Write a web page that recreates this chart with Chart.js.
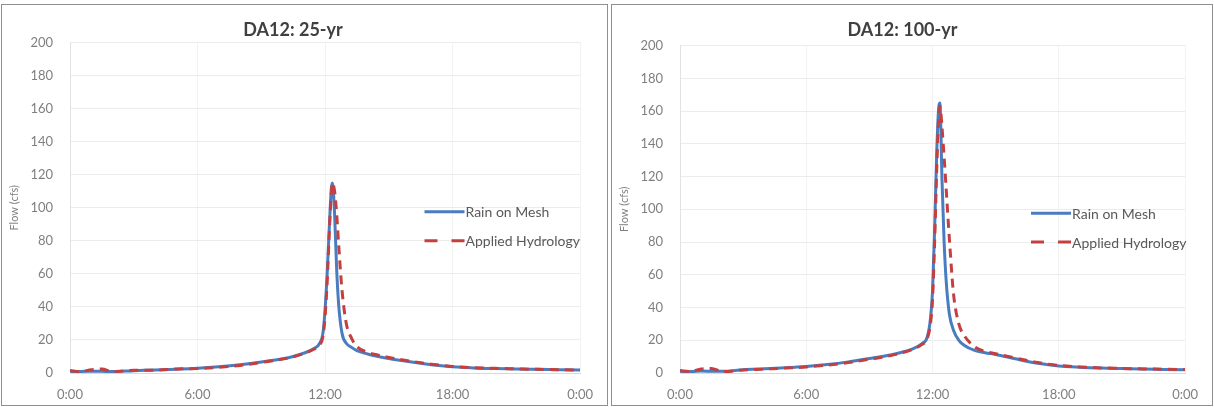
<!DOCTYPE html>
<html>
<head>
<meta charset="utf-8">
<script src="https://cdn.jsdelivr.net/npm/chart.js@4.4.1/dist/chart.umd.min.js"></script>
<style>
  html, body { margin: 0; padding: 0; background: #fff; }
  body { width: 1214px; height: 407px; position: relative; overflow: hidden; }
  .panel { position: absolute; top: 4px; border: 1px solid #8f8f8f; background: #fff; }
  #panel25 { left: 1px; }
  #panel100 { left: 611px; }
  canvas { display: block; }
</style>
</head>
<body>
<div class="panel" id="panel25"><canvas id="chart25" width="605" height="400"></canvas></div>
<div class="panel" id="panel100"><canvas id="chart100" width="600" height="400"></canvas></div>
<script>
// time in hours since 0:00, shared by all four series
const hours = [0, 0.5, 1, 1.5, 2, 3, 4, 5, 6, 7, 8, 9, 10, 10.5, 11, 11.5, 11.75, 11.9, 12, 12.1, 12.2, 12.3, 12.35, 12.45, 12.55, 12.65, 12.8, 13, 13.25, 13.5, 14, 14.5, 15, 16, 17, 18, 19, 20, 21, 22, 23, 24];

// 25-yr flows (cfs)
const rainOnMesh25 = [1.0, 0.9, 1.1, 1.0, 0.9, 1.4, 1.8, 2.3, 2.9, 3.8, 5.0, 6.6, 8.6, 10.0, 12.0, 15.0, 18, 24, 38, 60, 88, 112, 115, 96, 62, 40, 24, 18, 15.5, 13.5, 11.5, 10.0, 8.8, 6.8, 5.0, 3.8, 3.1, 2.7, 2.4, 2.2, 2.0, 1.8];
const appliedHydrology25 = [1.5, 0.8, 2.0, 2.4, 0.8, 1.6, 1.7, 2.4, 2.7, 3.4, 4.6, 6.4, 8.4, 9.8, 11.8, 14.5, 17, 22, 34, 55, 85, 110, 115, 110, 96, 76, 50, 30, 21, 16, 12.5, 10.8, 9.4, 7.2, 5.3, 4.0, 3.2, 2.8, 2.5, 2.2, 2.0, 1.8];

// 100-yr flows (cfs)
const rainOnMesh100 = [1.0, 0.9, 1.2, 1.1, 1.0, 2.0, 2.6, 3.2, 4.0, 5.2, 6.8, 8.8, 11.0, 12.5, 14.5, 18, 22, 33, 50, 88, 135, 163, 165, 118, 80, 56, 36, 26, 20, 17, 13.8, 12.4, 11.3, 8.5, 6.0, 4.3, 3.5, 3.0, 2.7, 2.4, 2.2, 2.0];
const appliedHydrology100 = [1.5, 0.9, 2.5, 2.8, 0.9, 1.8, 2.4, 3.0, 3.7, 4.8, 6.4, 8.4, 10.6, 12.2, 14.2, 17.5, 21, 30, 45, 80, 125, 158, 163, 150, 132, 112, 82, 48, 30, 23, 16, 13.2, 11.8, 9.0, 6.4, 4.6, 3.7, 3.1, 2.8, 2.5, 2.3, 2.1];

const seriesNames = ["Rain on Mesh", "Applied Hydrology"];
const xTicks = [0, 6, 12, 18, 24];

const FONT = "Lato, 'Open Sans', sans-serif";
const BLUE = "#4a7cc0";
const RED = "#c44040";

// legend drawn inside the plot, as in the Excel original
const insideLegend = {
    id: "insideLegend",
    afterDatasetsDraw(chart, args, opts) {
        const { ctx, chartArea } = chart;
        const x0 = chartArea.left + chartArea.width * opts.x;
        chart.data.datasets.forEach((ds, i) => {
            const y = chartArea.top + chartArea.height * opts.y[i];
            ctx.save();
            ctx.strokeStyle = ds.borderColor;
            ctx.lineWidth = ds.borderWidth;
            ctx.setLineDash(ds.borderDash ? opts.dash : []);
            ctx.beginPath();
            ctx.moveTo(x0, y);
            ctx.lineTo(x0 + opts.lineLength, y);
            ctx.stroke();
            ctx.setLineDash([]);
            ctx.fillStyle = opts.color;
            ctx.font = opts.font;
            ctx.textBaseline = "middle";
            ctx.fillText(ds.label, x0 + opts.lineLength + 1, y + 1);
            ctx.restore();
        });
    }
};

function toPoints(values) {
    return hours.map((h, i) => ({ x: h, y: values[i] }));
}

function makeChart(id, title, rom, applied, layout) {
    return new Chart(id, {
        type: "line",
        data: {
            datasets: [{
                label: seriesNames[0],
                data: toPoints(rom),
                borderColor: BLUE,
                borderWidth: 3,
                pointRadius: 0,
                cubicInterpolationMode: "monotone",
                order: 1
            }, {
                label: seriesNames[1],
                data: toPoints(applied),
                borderColor: RED,
                borderWidth: 3,
                borderDash: [9, 6],
                pointRadius: 0,
                cubicInterpolationMode: "monotone",
                order: 0
            }]
        },
        options: {
            responsive: false,
            animation: false,
            layout: { padding: { left: 0, right: layout.right, top: 0, bottom: 0 } },
            plugins: {
                legend: { display: false },
                tooltip: { enabled: false },
                title: {
                    display: true,
                    text: title,
                    color: "#404040",
                    font: { family: FONT, size: 18, weight: "bold" },
                    padding: { top: 14, bottom: layout.titleBottom }
                },
                insideLegend: {
                    x: 0.695, y: [0.512, 0.6],
                    lineLength: 40, dash: [13, 14],
                    color: "#595959",
                    font: "14px " + FONT
                }
            },
            scales: {
                x: {
                    type: "linear",
                    min: 0, max: 24,
                    afterBuildTicks: (scale) => { scale.ticks = xTicks.map(v => ({ value: v })); },
                    afterFit: (scale) => { scale.height = 32; },
                    ticks: {
                        color: "#7f7f7f",
                        font: { family: FONT, size: 13 },
                        padding: 14,
                        maxRotation: 0,
                        callback: (v) => (v % 24) + ":00"
                    },
                    grid: { color: "#f3f3f3", drawTicks: false },
                    border: { color: "#d9d9d9" }
                },
                y: {
                    min: 0, max: 200,
                    afterFit: (scale) => { scale.width = 68; },
                    ticks: {
                        stepSize: 20,
                        color: "#7f7f7f",
                        font: { family: FONT, size: 13 },
                        padding: 17
                    },
                    grid: { color: "#ececec", drawTicks: false },
                    border: { color: "#e2e2e2" },
                    title: {
                        display: true,
                        text: "Flow (cfs)",
                        color: "#7f7f7f",
                        font: { family: FONT, size: 11 },
                        padding: { top: 6, bottom: 0 }
                    }
                }
            }
        },
        plugins: [insideLegend]
    });
}

makeChart("chart25", "DA12: 25-yr", rainOnMesh25, appliedHydrology25, { right: 23, titleBottom: 2 });
makeChart("chart100", "DA12: 100-yr", rainOnMesh100, appliedHydrology100, { right: 19, titleBottom: 5 });
</script>
</body>
</html>
